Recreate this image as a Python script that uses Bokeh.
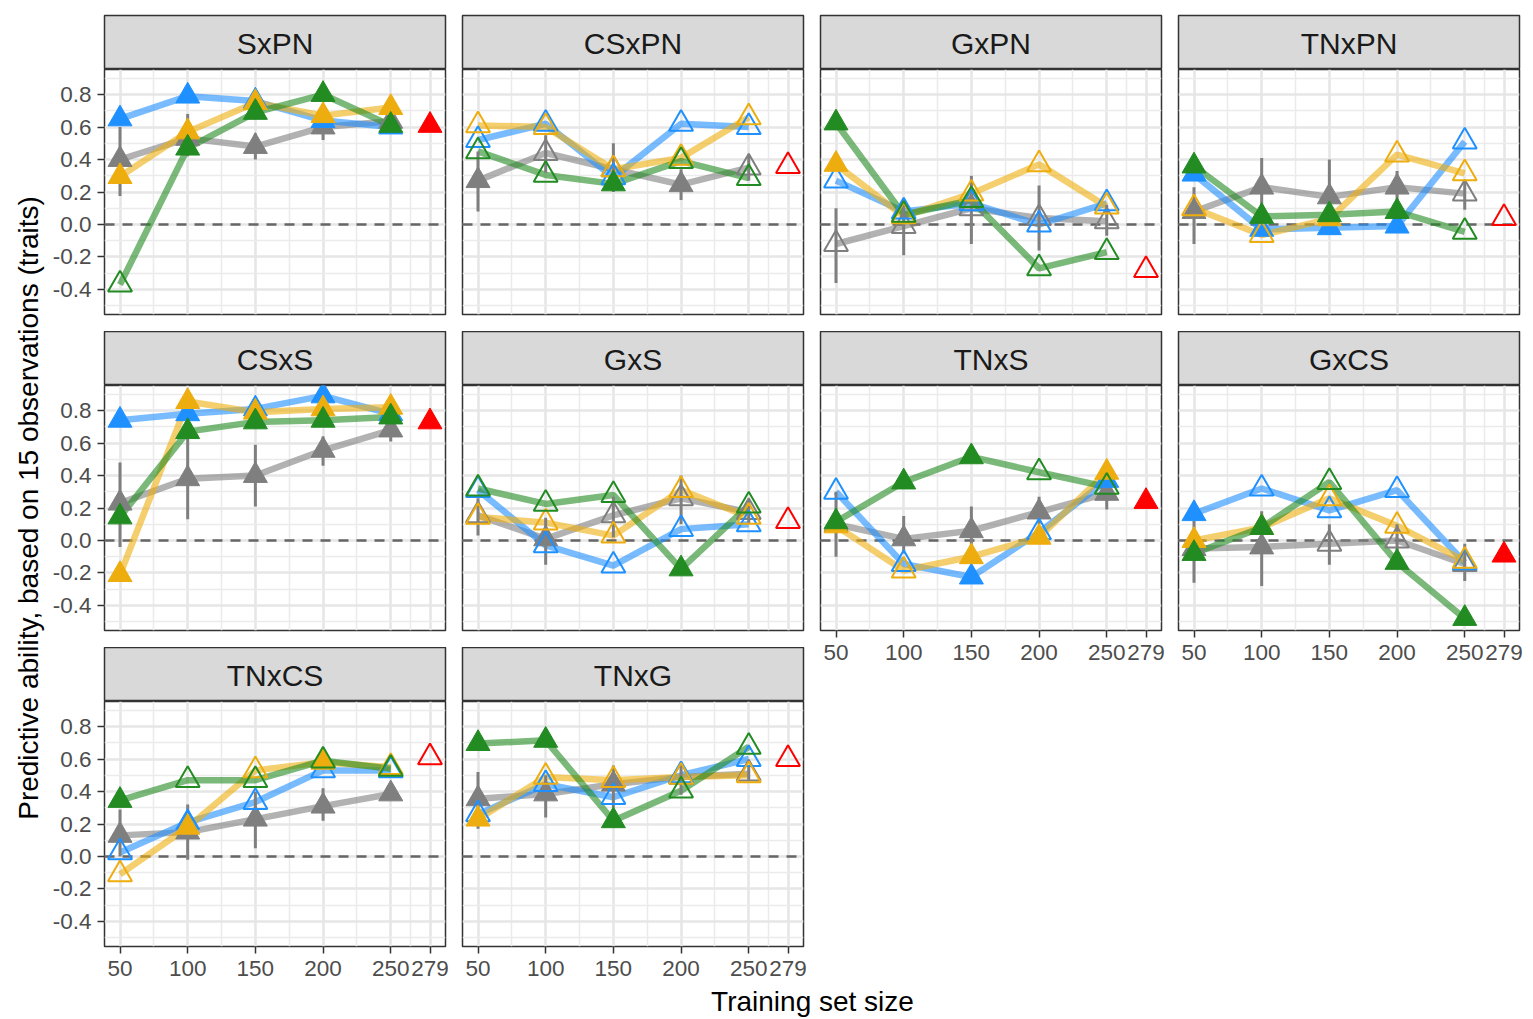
import math
from bokeh.plotting import figure
from bokeh.models import (FixedTicker, LinearAxis, Label, Span, Range1d, PrintfTickFormatter)
from bokeh.layouts import row, column
from bokeh.embed import file_html
from bokeh.resources import INLINE

# ---------------------------------------------------------------- data
panels = ["SxPN", "CSxPN", "GxPN", "TNxPN", "CSxS", "GxS", "TNxS", "GxCS", "TNxCS", "TNxG"]
sizes = [50, 100, 150, 200, 250]
full_size = 279
x_ticks = [50, 100, 150, 200, 250, 279]
x_minor = [75, 125, 175, 225, 264.5]
y_ticks = [-0.4, -0.2, 0.0, 0.2, 0.4, 0.6, 0.8]
y_minor = [-0.5, -0.3, -0.1, 0.1, 0.3, 0.5, 0.7, 0.9]

# mean predictive ability per training-set size (one row per panel)
blue = [
    [0.65, 0.79, 0.76, 0.64, 0.60],
    [0.52, 0.62, 0.29, 0.62, 0.60],
    [0.27, 0.08, 0.13, 0.00, 0.13],
    [0.31, -0.03, -0.02, -0.01, 0.51],
    [0.74, 0.78, 0.81, 0.89, 0.78],
    [0.31, -0.03, -0.155, 0.07, 0.10],
    [0.30, -0.145, -0.225, 0.05, 0.37],
    [0.165, 0.32, 0.185, 0.31, -0.135],
    [0.025, 0.21, 0.335, 0.53, 0.53],
    [0.26, 0.445, 0.365, 0.50, 0.60],
]
blue_filled = [
    [1, 1, 1, 1, 1], [0, 0, 0, 0, 0], [0, 0, 0, 0, 0], [1, 1, 1, 1, 0], [1, 1, 1, 1, 1],
    [0, 0, 0, 0, 0], [0, 0, 1, 0, 1], [1, 0, 0, 0, 0], [0, 1, 0, 0, 0], [0, 0, 0, 0, 0],
]
orange = [
    [0.295, 0.57, 0.75, 0.67, 0.72],
    [0.61, 0.60, 0.34, 0.41, 0.66],
    [0.37, 0.05, 0.19, 0.37, 0.11],
    [0.10, -0.065, 0.035, 0.43, 0.315],
    [-0.21, 0.855, 0.79, 0.81, 0.82],
    [0.145, 0.11, 0.03, 0.31, 0.145],
    [0.09, -0.185, -0.10, 0.02, 0.42],
    [0.00, 0.08, 0.26, 0.09, -0.125],
    [-0.11, 0.18, 0.53, 0.58, 0.55],
    [0.23, 0.49, 0.47, 0.49, 0.50],
]
orange_filled = [
    [1, 1, 1, 1, 1], [0, 0, 0, 0, 0], [1, 0, 0, 0, 0], [0, 0, 1, 0, 0], [1, 1, 1, 1, 1],
    [0, 0, 0, 0, 0], [1, 0, 1, 1, 1], [1, 1, 0, 0, 0], [0, 1, 0, 1, 0], [1, 0, 0, 0, 0],
]
green = [
    [-0.37, 0.47, 0.69, 0.80, 0.61],
    [0.45, 0.305, 0.25, 0.39, 0.285],
    [0.625, 0.06, 0.15, -0.27, -0.17],
    [0.36, 0.05, 0.06, 0.08, -0.045],
    [0.145, 0.67, 0.73, 0.74, 0.76],
    [0.32, 0.225, 0.28, -0.175, 0.215],
    [0.115, 0.36, 0.515, 0.42, 0.33],
    [-0.08, 0.08, 0.36, -0.135, -0.48],
    [0.345, 0.47, 0.47, 0.59, 0.54],
    [0.695, 0.715, 0.22, 0.405, 0.675],
]
green_filled = [
    [0, 1, 1, 1, 1], [0, 0, 1, 0, 0], [1, 0, 0, 0, 0], [1, 1, 1, 1, 0], [1, 1, 1, 1, 1],
    [0, 0, 0, 1, 0], [1, 1, 1, 0, 0], [1, 1, 0, 1, 1], [1, 0, 0, 0, 0], [1, 1, 1, 0, 0],
]
gray = [
    [0.40, 0.53, 0.48, 0.60, 0.635],
    [0.27, 0.44, 0.34, 0.245, 0.35],
    [-0.12, -0.01, 0.10, 0.04, 0.02],
    [0.08, 0.23, 0.17, 0.23, 0.19],
    [0.23, 0.38, 0.40, 0.555, 0.68],
    [0.155, 0.01, 0.155, 0.26, 0.175],
    [0.10, 0.01, 0.06, 0.175, 0.29],
    [-0.05, -0.04, -0.02, 0.00, -0.145],
    [0.13, 0.15, 0.23, 0.31, 0.385],
    [0.355, 0.385, 0.445, 0.49, 0.51],
]
gray_filled = [
    [1, 1, 1, 1, 1], [1, 0, 0, 1, 0], [0, 0, 0, 0, 0], [1, 1, 1, 1, 0], [1, 1, 1, 1, 1],
    [0, 1, 0, 0, 0], [1, 1, 1, 1, 1], [1, 1, 0, 0, 0], [1, 1, 1, 1, 1], [1, 1, 1, 0, 0],
]
gray_low = [
    [0.175, 0.42, 0.40, 0.52, 0.58],
    [0.08, 0.32, 0.20, 0.15, 0.27],
    [-0.36, -0.19, -0.12, -0.16, -0.07],
    [-0.12, 0.05, -0.01, 0.13, 0.09],
    [-0.04, 0.13, 0.21, 0.46, 0.61],
    [0.03, -0.15, 0.02, 0.10, 0.10],
    [-0.10, -0.08, -0.05, 0.10, 0.19],
    [-0.26, -0.28, -0.15, -0.10, -0.25],
    [0.00, -0.02, 0.05, 0.22, 0.36],
    [0.17, 0.24, 0.30, 0.38, 0.47],
]
gray_high = [
    [0.60, 0.68, 0.56, 0.68, 0.69],
    [0.45, 0.55, 0.50, 0.34, 0.43],
    [0.10, 0.16, 0.30, 0.24, 0.12],
    [0.23, 0.41, 0.40, 0.33, 0.27],
    [0.48, 0.67, 0.59, 0.64, 0.75],
    [0.26, 0.14, 0.27, 0.40, 0.25],
    [0.30, 0.15, 0.21, 0.27, 0.38],
    [0.12, 0.18, 0.10, 0.10, -0.02],
    [0.29, 0.32, 0.40, 0.42, 0.42],
    [0.52, 0.50, 0.56, 0.58, 0.56],
]
# full training set (279 lines)
red = [0.61, 0.36, -0.28, 0.04, 0.73, 0.12, 0.24, -0.09, 0.61, 0.60]
red_filled = [1, 0, 0, 0, 1, 0, 1, 1, 0, 0]

# ---------------------------------------------------------------- style
FONT = "Liberation Sans"
C_BLUE, C_ORANGE, C_GREEN, C_GRAY, C_RED = "#1E90FF", "#EEAD0E", "#228B22", "#7F7F7F", "#FF0000"
X_RANGE = (38.55, 290.45)
Y_RANGE = (-0.554, 0.954)
FRAME_W, FRAME_H, STRIP_H = 341, 245, 54
GAP = 17
AXIS_ROOM = 40
COL_BORDERS = [(59, 8), (9, 8), (9, 8), (9, 13)]
TRI_FILLED, TRI_OPEN = 24, 24

series = [
    (gray, gray_filled, C_GRAY),
    (blue, blue_filled, C_BLUE),
    (orange, orange_filled, C_ORANGE),
    (green, green_filled, C_GREEN),
]


def base_fig(fw, fh, lb, rb, tb, bb, xr, yr):
    f = figure(frame_width=fw, frame_height=fh, x_range=Range1d(*xr), y_range=Range1d(*yr),
               x_axis_location=None, y_axis_location=None, toolbar_location=None,
               output_backend="svg", min_border_left=lb, min_border_right=rb,
               min_border_top=tb, min_border_bottom=bb)
    f.border_fill_color = "white"
    f.background_fill_color = "white"
    return f


def make_strip(name, lb, rb, top):
    s = base_fig(FRAME_W, STRIP_H, lb, rb, top, 0, (0, 1), (0, 1))
    s.background_fill_color = "#D9D9D9"
    s.outline_line_color = "#333333"
    s.outline_line_width = 1.5
    s.grid.visible = False
    s.add_layout(Label(x=0.5, y=0.48, text=name, text_align="center", text_baseline="middle",
                       text_font=FONT, text_font_size="30px", text_color="#1A1A1A"))
    return s


def style_axis(ax):
    ax.major_label_text_font = FONT
    ax.major_label_text_font_size = "22.5px"
    ax.major_label_text_color = "#4D4D4D"
    ax.major_tick_line_color = "#333333"
    ax.major_tick_line_width = 1.5
    ax.major_tick_out = 7
    ax.major_tick_in = 0
    ax.minor_tick_line_color = None
    ax.axis_line_color = None
    ax.major_label_standoff = 6


def make_panel(i, lb, rb, bb, show_x, show_y):
    p = base_fig(FRAME_W, FRAME_H, lb, rb, 0, bb, X_RANGE, Y_RANGE)
    p.outline_line_color = "#333333"
    p.outline_line_width = 1.5
    p.xgrid.ticker = FixedTicker(ticks=x_ticks, minor_ticks=x_minor)
    p.ygrid.ticker = FixedTicker(ticks=y_ticks, minor_ticks=y_minor)
    for g in (p.xgrid, p.ygrid):
        g.grid_line_color = "#E6E6E6"
        g.grid_line_width = 2.6
        g.minor_grid_line_color = "#EBEBEB"
        g.minor_grid_line_width = 1.5

    p.add_layout(Span(location=0, dimension="width", line_color="#666666",
                      line_width=2.4, line_dash="10 8", level="underlay"))

    if show_y:
        ya = LinearAxis(ticker=FixedTicker(ticks=y_ticks),
                        formatter=PrintfTickFormatter(format="%.1f"))
        style_axis(ya)
        p.add_layout(ya, "left")
    if show_x:
        xa = LinearAxis(ticker=FixedTicker(ticks=x_ticks),
                        formatter=PrintfTickFormatter(format="%d"))
        style_axis(xa)
        xa.major_label_standoff = 7
        p.add_layout(xa, "below")

    # trend lines
    for vals, _, col in series:
        p.line(sizes, vals[i], line_color=col, line_width=6.5, line_alpha=0.6)

    # spread of the gray series
    p.segment(x0=sizes, y0=gray_low[i], x1=sizes, y1=gray_high[i],
              line_color=C_GRAY, line_width=3)

    # points: filled = significant, open = not significant
    for vals, flags, col in series:
        fx = [x for x, f in zip(sizes, flags[i]) if f]
        fy = [y for y, f in zip(vals[i], flags[i]) if f]
        ox = [x for x, f in zip(sizes, flags[i]) if not f]
        oy = [y for y, f in zip(vals[i], flags[i]) if not f]
        if fx:
            p.scatter(fx, fy, marker="triangle", size=TRI_FILLED,
                      fill_color=col, line_color=col, line_width=1)
        if ox:
            p.scatter(ox, oy, marker="triangle", size=TRI_OPEN,
                      fill_color=None, line_color=col, line_width=2)

    if red_filled[i]:
        p.scatter([full_size], [red[i]], marker="triangle", size=TRI_FILLED,
                  fill_color=C_RED, line_color=C_RED, line_width=1)
    else:
        p.scatter([full_size], [red[i]], marker="triangle", size=TRI_OPEN,
                  fill_color=None, line_color=C_RED, line_width=2)
    return p


# ---------------------------------------------------------------- layout
columns = []
for c in range(4):
    lb, rb = COL_BORDERS[c]
    idx = [k for k in (c, c + 4, c + 8) if k < len(panels)]
    items = []
    for n, k in enumerate(idx):
        last = n == len(idx) - 1
        items.append(make_strip(panels[k], lb, rb, 15 if n == 0 else 0))
        items.append(make_panel(k, lb, rb, AXIS_ROOM if last else GAP,
                                show_x=last, show_y=(c == 0)))
    columns.append(column(*items))

grid_block = row(*columns)

xtitle = base_fig(1487, 33, 0, 0, 0, 0, (0, 1487), (0, 33))
xtitle.outline_line_color = None
xtitle.grid.visible = False
xtitle.add_layout(Label(x=767, y=18, text="Training set size", text_align="center",
                        text_baseline="middle", text_font=FONT, text_font_size="28px",
                        text_color="black"))

ytitle = base_fig(45, 1019, 0, 0, 0, 0, (0, 45), (0, 1019))
ytitle.outline_line_color = None
ytitle.grid.visible = False
ytitle.add_layout(Label(x=28, y=1019 - 507.5, text="Predictive ability, based on 15 observations (traits)",
                        text_align="center", text_baseline="middle", angle=math.pi / 2,
                        text_font=FONT, text_font_size="28px", text_color="black"))

page = row(ytitle, column(grid_block, xtitle))

open("out.html", "w").write(file_html(page, INLINE))
